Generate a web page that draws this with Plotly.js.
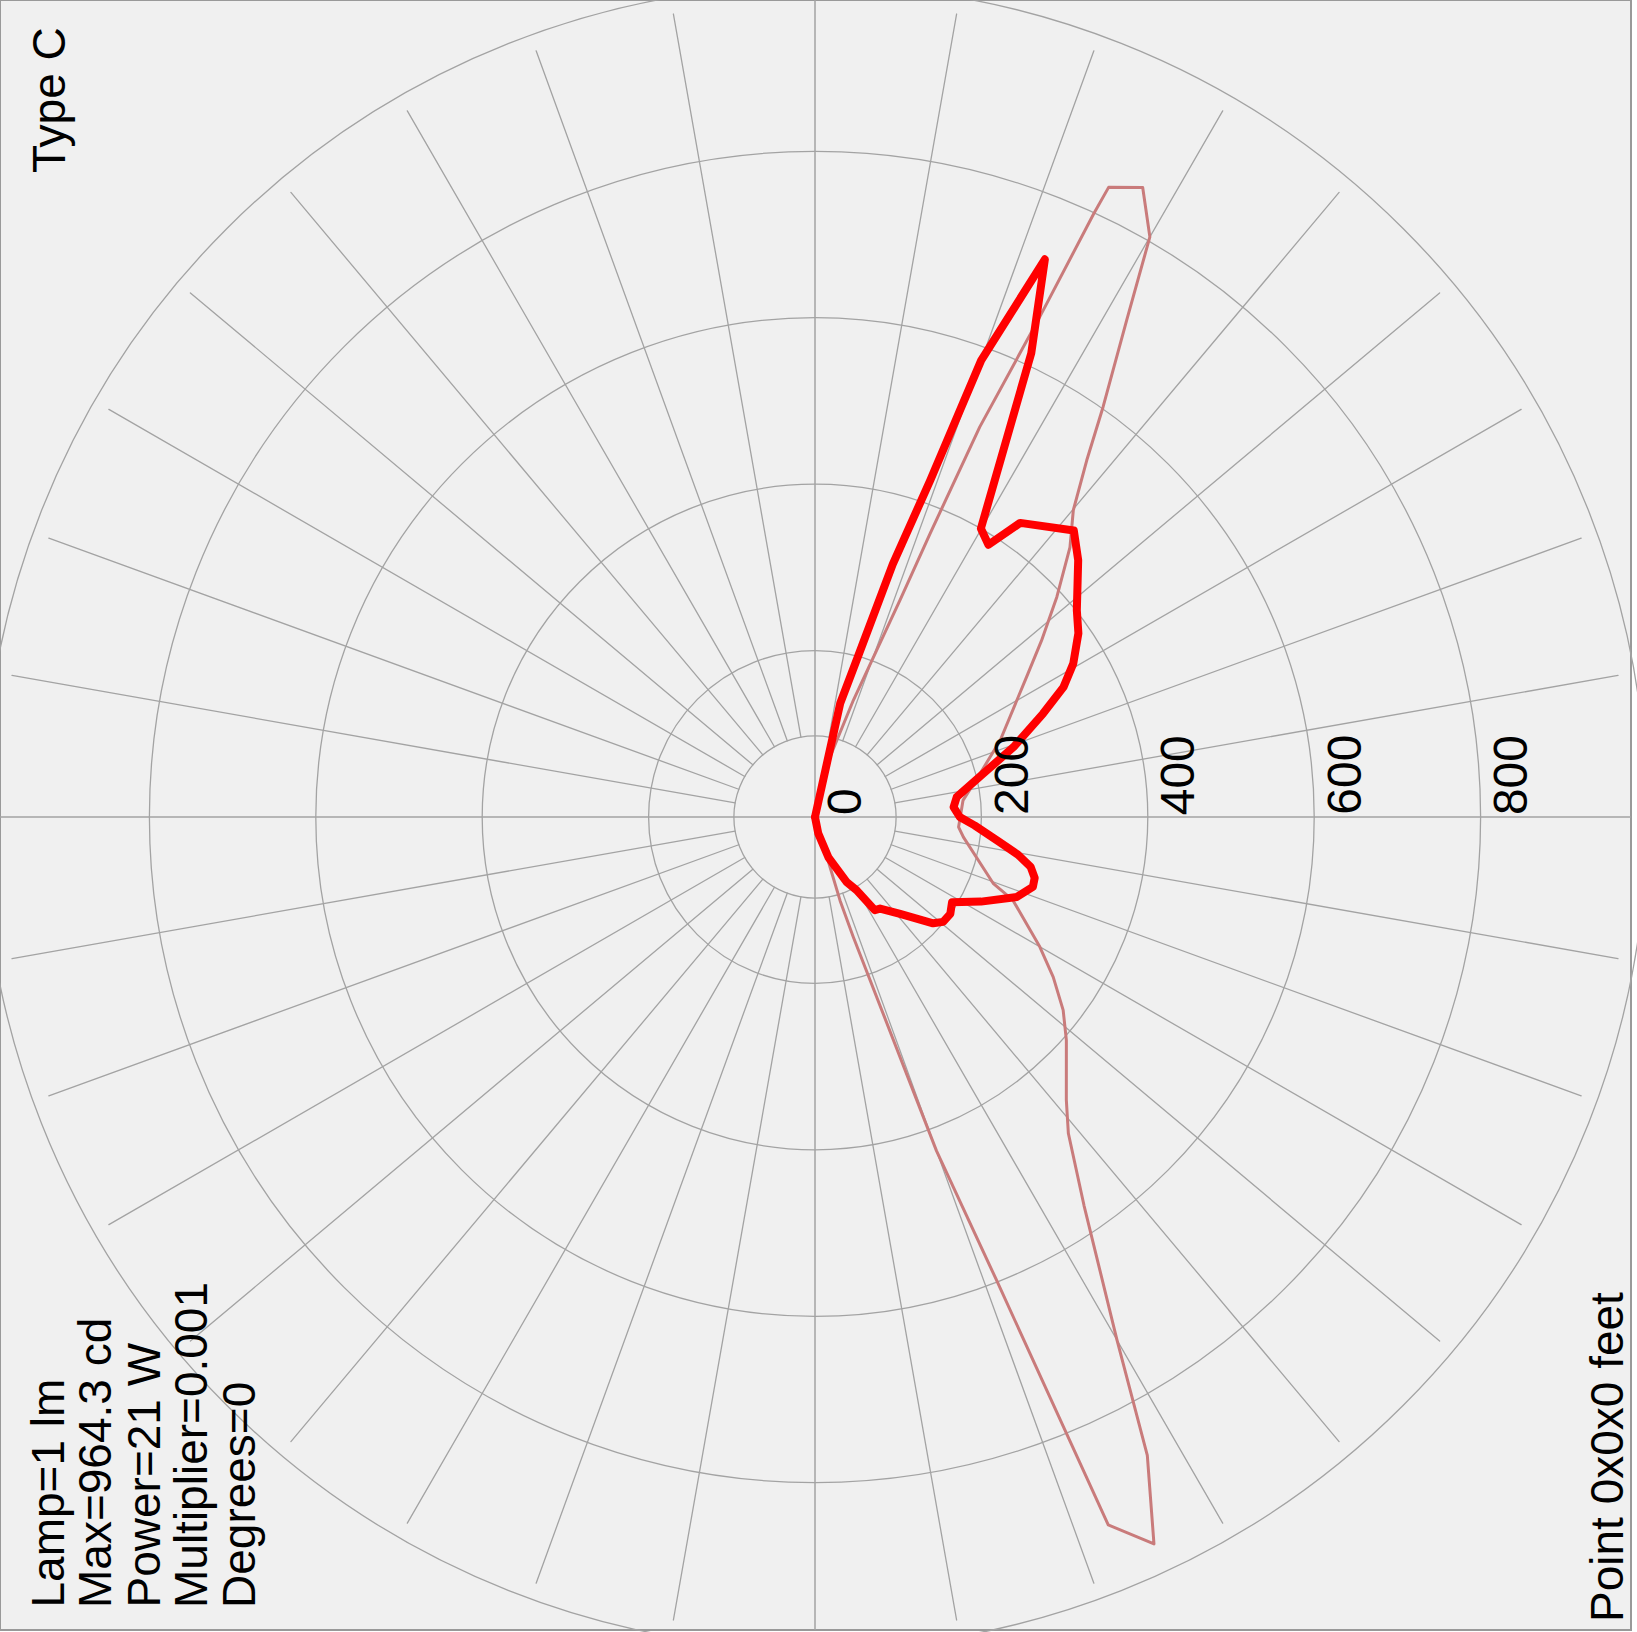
<!DOCTYPE html>
<html>
<head>
<meta charset="utf-8">
<script src="https://cdn.plot.ly/plotly-3.0.1.min.js"></script>
<style>
  html, body { margin: 0; padding: 0; background: #ffffff; overflow: hidden; width: 1637px; height: 1632px; }
  #plot { position: absolute; left: -17px; top: -15px; width: 1664px; height: 1664px; }
  #plot path.js-line { stroke-linejoin: round !important; stroke-linecap: round !important; }
</style>
</head>
<body>
<div id="plot"></div>
<script>
// Luminous intensity (cd) against angle, C0-C180 plane (bold curve)
const thetaC0 = [90, 77.5, 75.0, 72.9, 71.1, 70.0, 67.6, 65.0, 60.1, 57.5, 55.1, 47.9, 44.3, 38.3, 34.9,
  30.7, 27.6, 24.4, 19.4, 14.5, 8.0, 4.1, 0.0, -3.0, -7.5, -10.5, -13.0, -15.5, -17.8, -21.6, -27.0,
  -31.9, -35.6, -39.3, -42.0, -48.7, -54.6, -57.3, -60.4, -64.0, -71.6, -78.8, -90];
const candelaC0 = [0, 140, 200, 318, 428, 584, 725, 615, 400, 388, 431, 464, 442, 401, 386,
  361, 337, 301, 253, 209, 172, 167, 174, 192, 222, 248, 266, 274, 275, 261, 224,
  194, 200, 199, 191, 155, 135, 133, 101, 87, 51, 20, 0];

// C90-C270 plane (thin curve)
const thetaC90 = [90, 76.0, 71.8, 68.6, 67.9, 67.1, 65.8, 65.2, 65.0, 62.5, 60.0, 57.9, 54.9, 52.7, 49.9,
  46.6, 42.3, 37.9, 33.5, 30.0, 22.5, 14.7, 6.4, -4.0, -7.7, -20.5, -22.8, -30.0, -33.9, -37.9, -41.6,
  -48.4, -51.3, -55.3, -60.0, -62.5, -65.0, -67.5, -68.6, -70.0, -72.3, -73.3, -90];
const candelaC90 = [0, 74, 148, 280, 368, 509, 659, 799, 835, 853, 805, 705, 602, 539, 482,
  446, 393, 345, 305, 280, 241, 205, 179, 173, 180, 229, 258, 312, 345, 378, 404,
  455, 487, 568, 726, 865, 964, 921, 598, 427, 151, 105, 0];

// Grid: rings, radial tick labels and 10-degree spokes
const ringValues = [97.5, 200, 400, 600, 800];
const radialTicks = [0, 200, 400, 600, 800];
const spokeAngles = [10, 20, 30, 40, 50, 60, 70, 80, 100, 110, 120, 130, 140, 150, 160, 170,
  190, 200, 210, 220, 230, 240, 250, 260, 280, 290, 300, 310, 320, 330, 340, 350];
const spokeSpan = [97.5, 980];

// Text blocks
const typeLabel = 'Type C';
const infoLines = ['Lamp=1 lm', 'Max=964.3 cd', 'Power=21 W', 'Multiplier=0.001', 'Degrees=0'];
const pointLabel = 'Point 0x0x0 feet';

// Page geometry: the plot div is larger than the window so the polar area can run off the edges
const SIZE = 1664, OFF_X = 17, OFF_Y = 15, RMAX = 1000;
const FRAME_W = 1631, FRAME_H = 1630;
const px = X => (X + OFF_X) / SIZE;
const py = Y => 1 - (Y + OFF_Y) / SIZE;
const centerX = SIZE / 2 - OFF_X, centerY = SIZE / 2 - OFF_Y;
const radiusPx = v => v / RMAX * (SIZE / 2);

const GRID = '#a3a3a3';
const FONT = 'Liberation Sans, Arial, sans-serif';

// spokes as one broken polyline
const spokeR = [], spokeT = [];
spokeAngles.forEach(a => { spokeR.push(spokeSpan[0], spokeSpan[1], null); spokeT.push(a, a, null); });

const traces = [
  { type: 'scatterpolar', mode: 'lines', r: spokeR, theta: spokeT, connectgaps: false,
    line: { color: GRID, width: 1.3 }, hoverinfo: 'skip', showlegend: false },
  { type: 'scatterpolar', mode: 'lines', r: candelaC90, theta: thetaC90, name: 'C90-C270',
    line: { color: '#c97b7b', width: 3 }, showlegend: false },
  { type: 'scatterpolar', mode: 'lines', r: candelaC0, theta: thetaC0, name: 'C0-C180',
    line: { color: '#ff0000', width: 8 }, showlegend: false }
];

const annotations = [];
radialTicks.forEach(v => {
  annotations.push({ xref: 'paper', yref: 'paper', x: px(centerX + radiusPx(v) + 1), y: py(centerY),
    xanchor: 'left', yanchor: 'bottom', text: String(v), textangle: -90, showarrow: false,
    font: { family: FONT, size: 48, color: '#000' } });
});
annotations.push({ xref: 'paper', yref: 'paper', x: px(49), y: py(175), xanchor: 'center', yanchor: 'bottom',
  text: typeLabel, textangle: -90, showarrow: false, font: { family: FONT, size: 46, color: '#000' } });
const infoBaseline = [63, 111, 159, 207, 255];
infoLines.forEach((t, i) => {
  annotations.push({ xref: 'paper', yref: 'paper', x: px(infoBaseline[i] - 16), y: py(1610),
    xanchor: 'center', yanchor: 'bottom', text: t, textangle: -90, showarrow: false,
    font: { family: FONT, size: 46, color: '#000' } });
});
annotations.push({ xref: 'paper', yref: 'paper', x: px(1607), y: py(1624), xanchor: 'center', yanchor: 'bottom',
  text: pointLabel, textangle: -90, showarrow: false, font: { family: FONT, size: 46, color: '#000' } });

const shapes = [
  { type: 'rect', xref: 'paper', yref: 'paper', layer: 'below',
    x0: px(0), x1: px(FRAME_W), y0: py(FRAME_H), y1: py(0),
    fillcolor: '#f0f0f0', line: { color: '#999999', width: 2 } },
  { type: 'line', xref: 'paper', yref: 'paper', layer: 'below',
    x0: px(0), x1: px(FRAME_W), y0: 0.5, y1: 0.5, line: { color: GRID, width: 1.5 } },
  { type: 'line', xref: 'paper', yref: 'paper', layer: 'below',
    x0: 0.5, x1: 0.5, y0: py(FRAME_H), y1: py(0), line: { color: GRID, width: 1.5 } }
];

const layout = {
  width: SIZE, height: SIZE,
  margin: { l: 0, r: 0, t: 0, b: 0, pad: 0 },
  paper_bgcolor: '#ffffff',
  font: { family: FONT, color: '#000' },
  showlegend: false,
  polar: {
    domain: { x: [0, 1], y: [0, 1] },
    bgcolor: 'rgba(0,0,0,0)',
    radialaxis: { range: [0, RMAX], tickvals: ringValues, showticklabels: false, ticks: '',
      showline: false, gridcolor: GRID, gridwidth: 1.3, layer: 'below traces' },
    angularaxis: { rotation: 0, direction: 'counterclockwise', showgrid: false, showticklabels: false,
      ticks: '', showline: true, linecolor: GRID, linewidth: 1.3, layer: 'below traces' }
  },
  annotations: annotations,
  shapes: shapes
};

Plotly.newPlot('plot', traces, layout, { staticPlot: true, displayModeBar: false });
</script>
</body>
</html>
